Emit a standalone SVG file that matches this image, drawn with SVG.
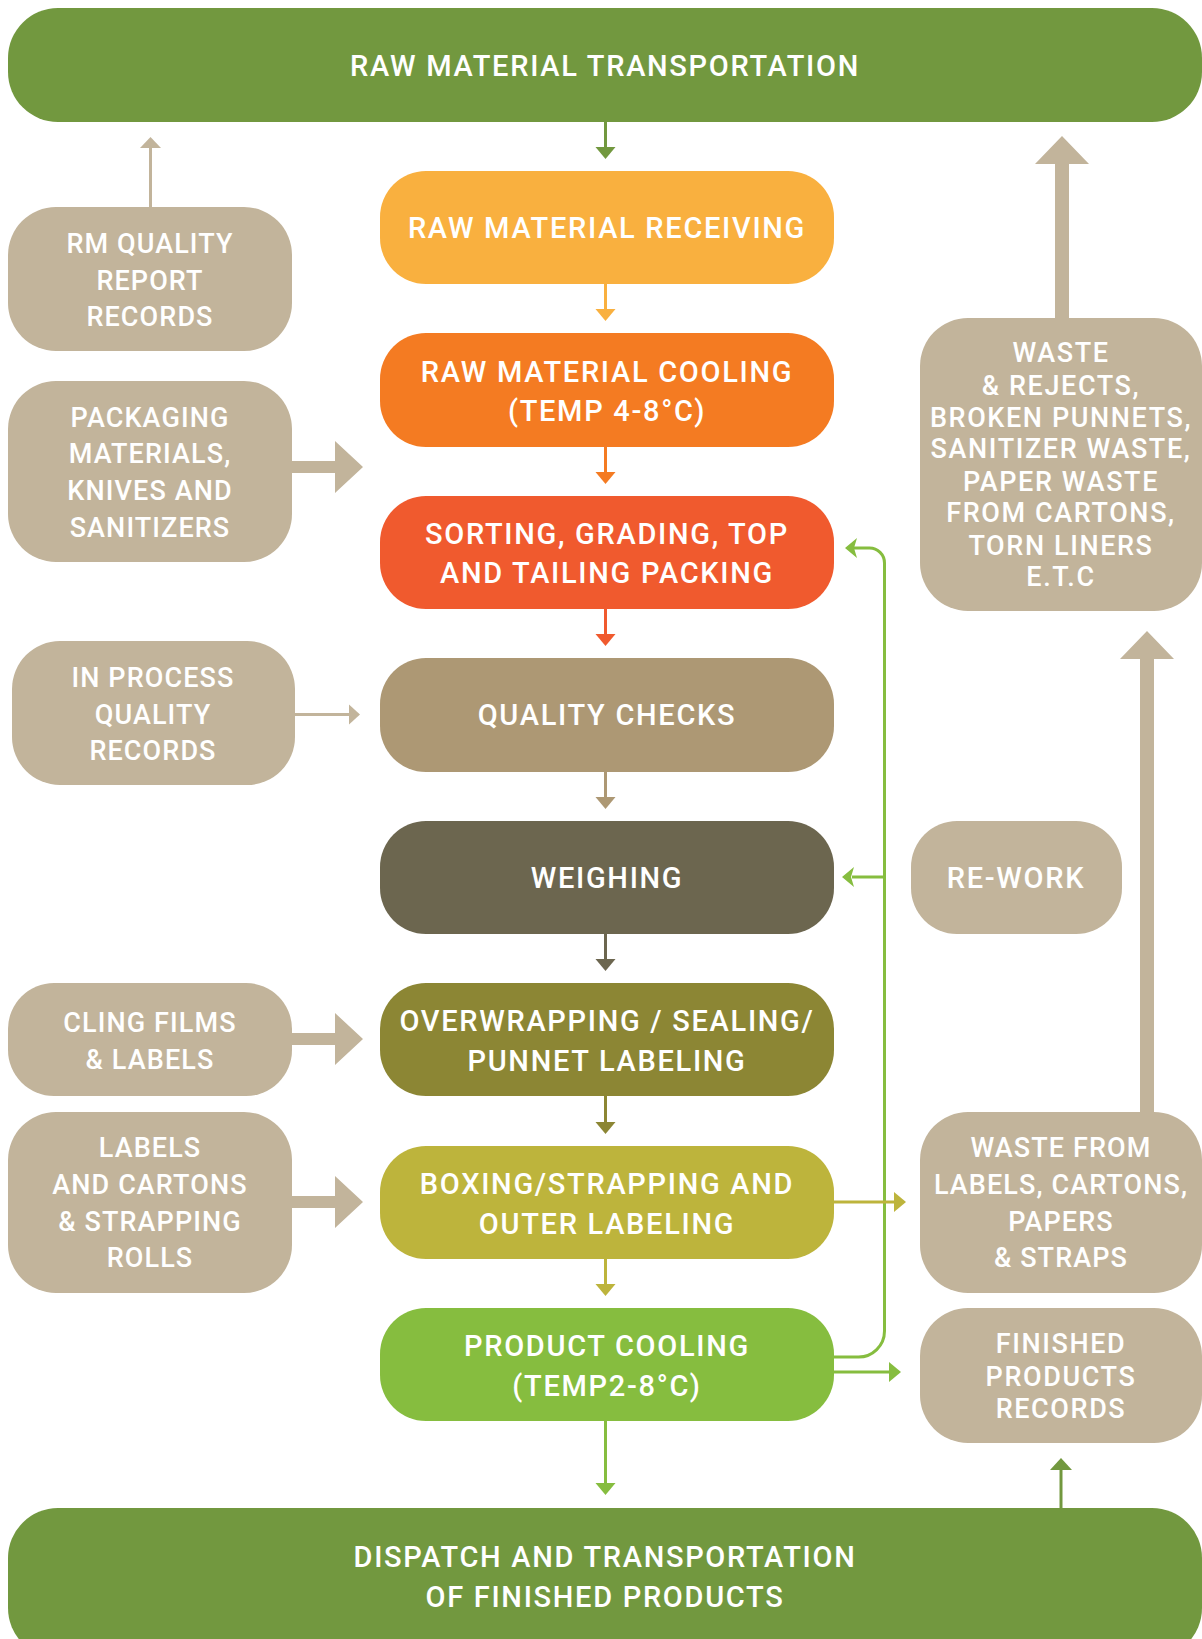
<svg xmlns="http://www.w3.org/2000/svg" width="1202" height="1639" viewBox="0 0 1202 1639">
<style>
text{font-family:Roboto,"Liberation Sans",sans-serif;fill:#fff;text-anchor:middle;font-size:27px;font-weight:500;letter-spacing:1.1px}
.c{font-size:29px;letter-spacing:1.7px}
.s{font-size:27px;letter-spacing:1.6px}
.beige{fill:#C2B49B}
.bar{fill:#72983F}
</style>
<rect width="1202" height="1639" fill="#fff"/>
<g id="connectors">
  <g stroke-width="3" fill="none">
    <line x1="605.5" y1="121" x2="605.5" y2="148" stroke="#72983F"/>
    <line x1="605.5" y1="284" x2="605.5" y2="310" stroke="#F9B03F"/>
    <line x1="605.5" y1="447" x2="605.5" y2="473" stroke="#F47B22"/>
    <line x1="605.5" y1="609" x2="605.5" y2="635" stroke="#F05A2E"/>
    <line x1="605.5" y1="772" x2="605.5" y2="798" stroke="#AD9874"/>
    <line x1="605.5" y1="934" x2="605.5" y2="960" stroke="#6C664F"/>
    <line x1="605.5" y1="1096" x2="605.5" y2="1123" stroke="#8C8634"/>
    <line x1="605.5" y1="1259" x2="605.5" y2="1285" stroke="#BDB43C"/>
    <line x1="605.5" y1="1421" x2="605.5" y2="1484" stroke="#86BD3F"/>
  </g>
  <polygon points="595.5,147 615.5,147 605.5,159" fill="#72983F"/>
  <polygon points="595.5,309 615.5,309 605.5,321" fill="#F9B03F"/>
  <polygon points="595.5,472 615.5,472 605.5,484" fill="#F47B22"/>
  <polygon points="595.5,634 615.5,634 605.5,646" fill="#F05A2E"/>
  <polygon points="595.5,797 615.5,797 605.5,809" fill="#AD9874"/>
  <polygon points="595.5,959 615.5,959 605.5,971" fill="#6C664F"/>
  <polygon points="595.5,1122 615.5,1122 605.5,1134" fill="#8C8634"/>
  <polygon points="595.5,1284 615.5,1284 605.5,1296" fill="#BDB43C"/>
  <polygon points="595.5,1483 615.5,1483 605.5,1495" fill="#86BD3F"/>
  <line x1="150.5" y1="207" x2="150.5" y2="147" stroke="#C2B49B" stroke-width="3"/>
  <polygon points="140,148 161,148 150.5,137" fill="#C2B49B"/>
  <line x1="290" y1="714.5" x2="350" y2="714.5" stroke="#C2B49B" stroke-width="3"/>
  <polygon points="349,704.5 349,724.5 360,714.5" fill="#C2B49B"/>
  <polygon class="beige" points="285,461 335,461 335,441 363,467 335,493 335,473 285,473"/>
  <polygon class="beige" points="285,1033 335,1033 335,1013 363,1039 335,1065 335,1045 285,1045"/>
  <polygon class="beige" points="285,1196 335,1196 335,1176 363,1202 335,1228 335,1208 285,1208"/>
  <polygon class="beige" points="1055,325 1055,164 1035,164 1062,136 1089,164 1069,164 1069,325"/>
  <polygon class="beige" points="1140,1118 1140,659 1120,659 1147,631 1174,659 1154,659 1154,1118"/>
  <path d="M830,1357 H858 A26,26 0 0 0 884.5,1331 V563 A15,15 0 0 0 869.5,548 H854" fill="none" stroke="#86BD3F" stroke-width="3"/>
  <polygon points="845,548 857,538 854,548 857,558" fill="#86BD3F"/>
  <line x1="884.5" y1="877" x2="852" y2="877" stroke="#86BD3F" stroke-width="3"/>
  <polygon points="842,877 854,867 851,877 854,887" fill="#86BD3F"/>
  <line x1="830" y1="1202" x2="896" y2="1202" stroke="#BDB43C" stroke-width="3"/>
  <polygon points="894,1192 894,1212 906,1202" fill="#BDB43C"/>
  <line x1="830" y1="1372" x2="891" y2="1372" stroke="#86BD3F" stroke-width="3"/>
  <polygon points="889,1362 889,1382 901,1372" fill="#86BD3F"/>
  <line x1="1061" y1="1510" x2="1061" y2="1468" stroke="#72983F" stroke-width="3"/>
  <polygon points="1050,1470 1072,1470 1061,1458" fill="#72983F"/>
</g>

<g id="raw-material-transportation">
  <rect class="bar" x="8" y="8" width="1194" height="114" rx="50"/>
  <text class="c" x="605" y="76">RAW MATERIAL TRANSPORTATION</text>
</g>
<g id="raw-material-receiving">
  <rect x="380" y="171" width="454" height="113" rx="46" fill="#F9B03F"/>
  <text class="c" x="607" y="238">RAW MATERIAL RECEIVING</text>
</g>
<g id="raw-material-cooling">
  <rect x="380" y="333" width="454" height="114" rx="46" fill="#F47B22"/>
  <text class="c" x="607" y="382">RAW MATERIAL COOLING</text>
  <text class="c" x="607" y="421">(TEMP 4-8°C)</text>
</g>
<g id="sorting">
  <rect x="380" y="496" width="454" height="113" rx="46" fill="#F05A2E"/>
  <text class="c" x="607" y="544">SORTING, GRADING, TOP</text>
  <text class="c" x="607" y="583">AND TAILING PACKING</text>
</g>
<g id="quality-checks">
  <rect x="380" y="658" width="454" height="114" rx="46" fill="#AD9874"/>
  <text class="c" x="607" y="725">QUALITY CHECKS</text>
</g>
<g id="weighing">
  <rect x="380" y="821" width="454" height="113" rx="46" fill="#6C664F"/>
  <text class="c" x="607" y="888">WEIGHING</text>
</g>
<g id="overwrapping">
  <rect x="380" y="983" width="454" height="113" rx="46" fill="#8C8634"/>
  <text class="c" x="607" y="1031">OVERWRAPPING / SEALING/</text>
  <text class="c" x="607" y="1071">PUNNET LABELING</text>
</g>
<g id="boxing">
  <rect x="380" y="1146" width="454" height="113" rx="46" fill="#BDB43C"/>
  <text class="c" x="607" y="1194">BOXING/STRAPPING AND</text>
  <text class="c" x="607" y="1234">OUTER LABELING</text>
</g>
<g id="product-cooling">
  <rect x="380" y="1308" width="454" height="113" rx="46" fill="#86BD3F"/>
  <text class="c" x="607" y="1356">PRODUCT COOLING</text>
  <text class="c" x="607" y="1396">(TEMP2-8°C)</text>
</g>
<g id="dispatch">
  <rect class="bar" x="8" y="1508" width="1194" height="150" rx="50"/>
  <text class="c" x="605" y="1567">DISPATCH AND TRANSPORTATION</text>
  <text class="c" x="605" y="1607">OF FINISHED PRODUCTS</text>
</g>

<g id="rm-quality-records">
  <rect class="beige" x="8" y="207" width="284" height="144" rx="48"/>
  <text x="150" y="253">RM QUALITY</text>
  <text x="150" y="290">REPORT</text>
  <text x="150" y="326">RECORDS</text>
</g>
<g id="packaging-materials">
  <rect class="beige" x="8" y="381" width="284" height="181" rx="48"/>
  <text x="150" y="427">PACKAGING</text>
  <text x="150" y="463">MATERIALS,</text>
  <text x="150" y="500">KNIVES AND</text>
  <text x="150" y="537">SANITIZERS</text>
</g>
<g id="in-process-records">
  <rect class="beige" x="12" y="641" width="283" height="144" rx="48"/>
  <text x="153" y="687">IN PROCESS</text>
  <text x="153" y="724">QUALITY</text>
  <text x="153" y="760">RECORDS</text>
</g>
<g id="cling-films">
  <rect class="beige" x="8" y="983" width="284" height="113" rx="46"/>
  <text x="150" y="1032">CLING FILMS</text>
  <text x="150" y="1069">&amp; LABELS</text>
</g>
<g id="labels-cartons">
  <rect class="beige" x="8" y="1112" width="284" height="181" rx="48"/>
  <text x="150" y="1157">LABELS</text>
  <text x="150" y="1194">AND CARTONS</text>
  <text x="150" y="1231">&amp; STRAPPING</text>
  <text x="150" y="1267">ROLLS</text>
</g>
<g id="waste-rejects">
  <rect class="beige" x="920" y="318" width="282" height="293" rx="48"/>
  <text class="s" x="1061" y="362">WASTE</text>
  <text class="s" x="1061" y="395">&amp; REJECTS,</text>
  <text class="s" x="1061" y="427">BROKEN PUNNETS,</text>
  <text class="s" x="1061" y="458">SANITIZER WASTE,</text>
  <text class="s" x="1061" y="491">PAPER WASTE</text>
  <text class="s" x="1061" y="522">FROM CARTONS,</text>
  <text class="s" x="1061" y="555">TORN LINERS</text>
  <text class="s" x="1061" y="586">E.T.C</text>
</g>
<g id="re-work">
  <rect class="beige" x="911" y="821" width="211" height="113" rx="46"/>
  <text class="c" x="1016" y="888">RE-WORK</text>
</g>
<g id="waste-from-labels">
  <rect class="beige" x="920" y="1112" width="282" height="181" rx="48"/>
  <text x="1061" y="1157">WASTE FROM</text>
  <text x="1061" y="1194">LABELS, CARTONS,</text>
  <text x="1061" y="1231">PAPERS</text>
  <text x="1061" y="1267">&amp; STRAPS</text>
</g>
<g id="finished-records">
  <rect class="beige" x="920" y="1308" width="282" height="135" rx="48"/>
  <text class="s" x="1061" y="1353">FINISHED</text>
  <text class="s" x="1061" y="1386">PRODUCTS</text>
  <text class="s" x="1061" y="1418">RECORDS</text>
</g>
</svg>
